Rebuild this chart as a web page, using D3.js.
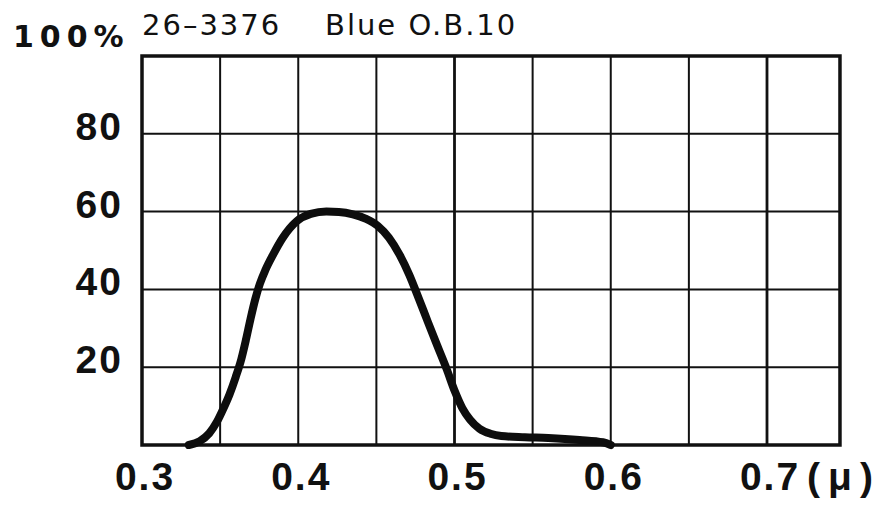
<!DOCTYPE html>
<meta charset="utf-8">
<style>
body { margin: 0; background: #fff; }
.grid { stroke: #111; stroke-width: 2px; }
.frame { fill: none; stroke: #111; stroke-width: 3.5px; }
.curve { fill: none; stroke: #0d0d0d; stroke-width: 8px; stroke-linejoin: round; stroke-linecap: round; }
.tick { font-family: "Liberation Sans", Arial, sans-serif; font-weight: bold; font-size: 39px; fill: #111; letter-spacing: 2px; }
.title { font-family: "DejaVu Sans", sans-serif; font-size: 29px; fill: #111; letter-spacing: 2px; }
</style>
<svg width="881" height="509"></svg>
<script src="https://cdn.jsdelivr.net/npm/d3@7"></script>
<script>

// transmission curve
var wavelength = [0.330, 0.337, 0.343, 0.348, 0.352, 0.356, 0.360, 0.3635, 0.3665, 0.3695, 0.3725, 0.3755,
                  0.379, 0.384, 0.390, 0.399, 0.408, 0.418, 0.426, 0.435, 0.443, 0.451, 0.458,
                  0.465, 0.471, 0.477, 0.483, 0.489, 0.495, 0.500, 0.505, 0.510, 0.516, 0.523,
                  0.530, 0.545, 0.560, 0.580, 0.595, 0.600];
var transmission = [0, 1.0, 3.0, 6.0, 9.3, 13, 17.5, 22, 27, 32.5, 37.5, 41.5,
                    45, 49, 53.2, 57.5, 59.4, 60, 59.9, 59.3, 58.2, 56.3, 53.3,
                    48.8, 43.8, 37.8, 31.6, 25.5, 19.5, 14, 9.5, 6.5, 4.2, 2.9,
                    2.3, 2.0, 1.8, 1.3, 0.7, 0];

var xTicks = [0.3, 0.4, 0.5, 0.6, 0.7];
var xGrid = [0.35, 0.4, 0.45, 0.5, 0.55, 0.6, 0.65, 0.7];
var yTicks = [20, 40, 60, 80];
var titleCode = "26–3376";
var titleName = "Blue O.B.10";

var svg = d3.select("svg");

var x = d3.scaleLinear().domain([0.3, 0.7]).range([142, 767]),
    y = d3.scaleLinear().domain([0, 100]).range([445, 56]),
    xEnd = 0.7467;

var g = svg.append("g");

g.selectAll(".vgrid")
  .data(xGrid)
  .enter().append("line")
    .attr("class", "grid")
    .attr("x1", d => x(d)).attr("x2", d => x(d))
    .attr("y1", y(0)).attr("y2", y(100))
    .style("stroke-width", d => (d === 0.5 || d === 0.7) ? "2.8px" : null);

g.selectAll(".hgrid")
  .data(yTicks)
  .enter().append("line")
    .attr("class", "grid")
    .attr("x1", x(0.3)).attr("x2", x(xEnd))
    .attr("y1", d => y(d)).attr("y2", d => y(d));

g.append("rect")
    .attr("class", "frame")
    .attr("x", x(0.3)).attr("y", y(100))
    .attr("width", x(xEnd) - x(0.3))
    .attr("height", y(0) - y(100));

var line = d3.line()
    .x((d, i) => x(wavelength[i]))
    .y(d => y(d))
    .curve(d3.curveMonotoneX);

g.append("path")
    .datum(transmission)
    .attr("class", "curve")
    .attr("d", line);

// axis labels
svg.selectAll(".ylab")
  .data(yTicks)
  .enter().append("text")
    .attr("class", "tick")
    .attr("x", 123)
    .attr("y", d => y(d) + 6)
    .attr("text-anchor", "end")
    .text(d => d);

svg.append("text")
    .attr("class", "tick")
    .attr("x", 13).attr("y", 47)
    .style("font-family", "'DejaVu Sans', sans-serif")
    .style("font-size", "30px")
    .style("letter-spacing", "6px")
    .text("100%");

svg.selectAll(".xlab")
  .data(xTicks)
  .enter().append("text")
    .attr("class", "tick")
    .attr("x", d => x(d) + 3)
    .attr("y", 490)
    .attr("text-anchor", "middle")
    .text(d => d.toFixed(1));

svg.append("text")
    .attr("class", "tick")
    .attr("x", 807).attr("y", 490)
    .style("letter-spacing", "0px")
    .attr("textLength", 66)
    .attr("lengthAdjust", "spacing")
    .text("(μ)");

svg.append("text")
    .attr("class", "title")
    .attr("x", 142).attr("y", 35)
    .text(titleCode);

svg.append("text")
    .attr("class", "title")
    .attr("x", 325).attr("y", 35)
    .text(titleName);

</script>
